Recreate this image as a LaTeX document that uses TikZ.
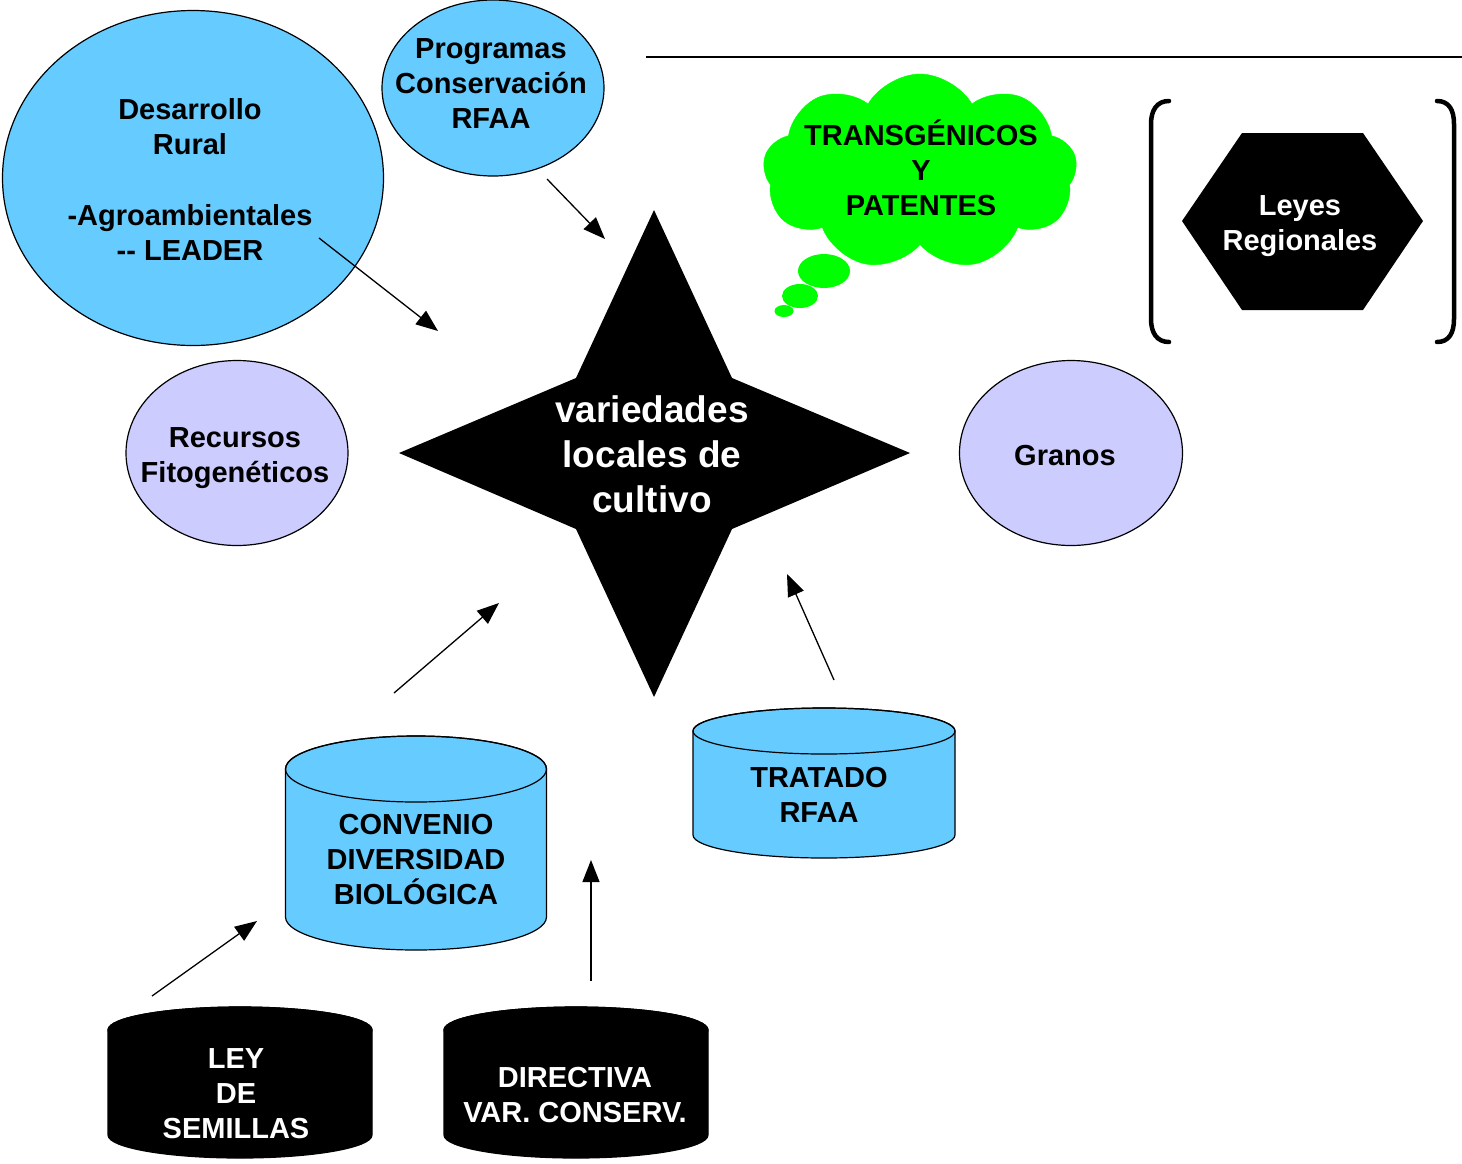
\documentclass[tikz,border=0pt]{standalone}
\usepackage{fontspec}
\setmainfont{Liberation Sans}
\usepackage{xcolor}
\usepackage{tikz}
\usetikzlibrary{shapes.geometric,shapes.symbols,arrows.meta}
\definecolor{lblue}{RGB}{102,204,255}
\definecolor{lilac}{RGB}{204,204,255}
\definecolor{cgreen}{RGB}{0,255,0}
\tikzset{
  txt/.style={align=center, font=\fontsize{29}{35}\selectfont\bfseries, inner sep=0pt},
  wtxt/.style={txt, text=white},
  oval/.style={ellipse, draw, line width=1.2pt, inner sep=0pt},
  arr/.style={-{Triangle[length=22pt,width=17pt]}, line width=1.3pt},
}
% cylinder: centre x, top y, bottom y, x radius, y radius, fill
\newcommand{\drum}[6]{%
  \filldraw[fill=#6, line width=1.2pt] (#1-#4,#2) -- (#1-#4,#3)
    arc[start angle=180, end angle=360, x radius=#4pt, y radius=#5pt] -- (#1+#4,#2)
    arc[start angle=0, end angle=180, x radius=#4pt, y radius=#5pt] -- cycle;
  \draw[line width=1.2pt] (#1,#2) ellipse[x radius=#4pt, y radius=#5pt];
}

\begin{document}
\begin{tikzpicture}[x=1pt, y=-1pt]
  \useasboundingbox (0,0) rectangle (1462,1163);

  % ellipses
  \node (dr) at (193,178) [oval, fill=lblue, minimum width=381pt, minimum height=335pt] {};
  \node (dr-t) at (190,179) [txt] {Desarrollo\\Rural\\[36pt]-Agroambientales\\-{}- LEADER};
  \node (prog) at (493,88) [oval, fill=lblue, minimum width=222pt, minimum height=176pt] {};
  \node (prog-t) at (491,84) [txt] {Programas\\Conservación\\RFAA};
  \node (rec) at (237,453) [oval, fill=lilac, minimum width=222pt, minimum height=185pt] {};
  \node (rec-t) at (235,458) [txt] {Recursos\\Fitogenéticos};
  \node (gra) at (1071,453) [oval, fill=lilac, minimum width=223pt, minimum height=185pt] {};
  \node (gra-t) at (1065,456) [txt] {Granos};

  % line at the top
  \coordinate (l1) at (646,57);
  \coordinate (l2) at (1462,57);
  \draw [line width=1.2pt] (l1) -- (l2);

  % thought cloud
  \node (cloud) at (920,172) [cloud, cloud puffs=9, cloud puff arc=120, cloud ignores aspect,
    fill=cgreen, draw=cgreen, minimum width=314pt, minimum height=196pt, inner sep=0pt] {};
  \fill [cgreen] (824,271) ellipse [x radius=26pt, y radius=17pt];
  \fill [cgreen] (800,296) ellipse [x radius=18pt, y radius=12pt];
  \fill [cgreen] (784,311) ellipse [x radius=9.5pt, y radius=6pt];
  \node (cloud-t) at (921,168) [txt] {TRANSGÉNICOS\\Y\\PATENTES};

  % brackets and hexagon
  \draw [line width=4.5pt, line cap=round] (1169,101) .. controls (1157,101) and (1151,110) .. (1151,124)
    -- (1151,319) .. controls (1151,333) and (1157,342) .. (1169,342);
  \draw [line width=4.5pt, line cap=round] (1437,101) .. controls (1449,101) and (1454,110) .. (1454,124)
    -- (1454,319) .. controls (1454,333) and (1449,342) .. (1437,342);
  \fill (1182,221) -- (1242,133) -- (1363,133) -- (1423,221) -- (1363,310) -- (1242,310) -- cycle;
  \node (ley-t) at (1300,226) [wtxt] {Leyes\\Regionales};

  % star
  \fill (654,210) -- (732,378) -- (910,453) -- (732,529) -- (654,697) -- (576,529) -- (399,453) -- (576,378) -- cycle;
  \node (var) at (652,454) [wtxt, font=\fontsize{37}{45}\selectfont\bfseries] {variedades\\locales de\\cultivo};

  % cylinders
  \drum{416}{769}{917}{130.5}{33}{lblue}
  \node (cbd) at (416,860) [txt] {CONVENIO\\DIVERSIDAD\\BIOLÓGICA};
  \drum{824}{731}{835}{131}{23}{lblue}
  \node (trat) at (819,795) [txt] {TRATADO\\RFAA};
  \drum{240}{1030}{1135}{132}{23}{black}
  \node (sem) at (236,1094) [wtxt] {LEY\\DE\\SEMILLAS};
  \drum{576}{1030}{1135}{132}{23}{black}
  \node (dir) at (575,1095) [wtxt] {DIRECTIVA\\VAR. CONSERV.};

  % arrows
  \coordinate (a1) at (319,238);  \coordinate (b1) at (438,331);
  \coordinate (a2) at (547,179);  \coordinate (b2) at (605,239);
  \coordinate (a3) at (394,693);  \coordinate (b3) at (499,603);
  \coordinate (a4) at (834,680);  \coordinate (b4) at (787,574);
  \coordinate (a5) at (152,996);  \coordinate (b5) at (257,921);
  \coordinate (a6) at (591,981);  \coordinate (b6) at (591,860);
  \draw [arr] (a1) -- (b1);
  \draw [arr] (a2) -- (b2);
  \draw [arr] (a3) -- (b3);
  \draw [arr] (a4) -- (b4);
  \draw [arr] (a5) -- (b5);
  \draw [arr] (a6) -- (b6);
\end{tikzpicture}
\end{document}
